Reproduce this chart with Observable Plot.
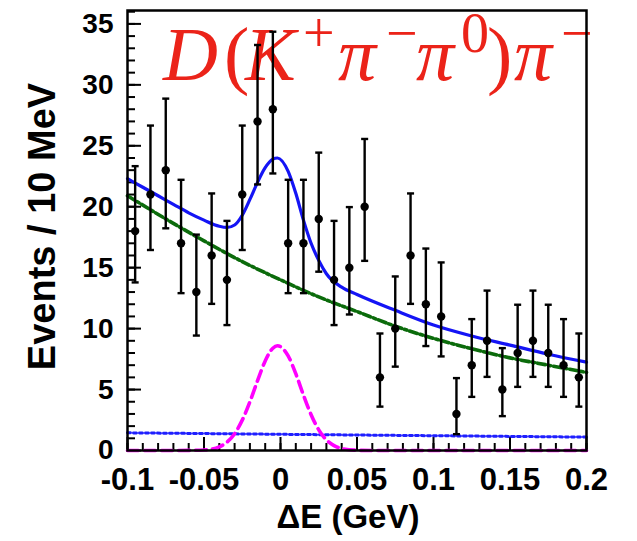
<!DOCTYPE html>
<html>
<head>
<meta charset="utf-8">
<script src="https://cdn.jsdelivr.net/npm/d3@7"></script>
<script src="https://cdn.jsdelivr.net/npm/@observablehq/plot@0.6"></script>
<style>
  html, body { margin: 0; padding: 0; background: white; }
</style>
</head>
<body>
<div id="chart"></div>
<script>
// ---- data ----
const binCenters = [-0.095,-0.085,-0.075,-0.065,-0.055,-0.045,-0.035,-0.025,-0.015,-0.005,
                    0.005,0.015,0.025,0.035,0.045,0.055,0.065,0.075,0.085,0.095,
                    0.105,0.115,0.125,0.135,0.145,0.155,0.165,0.175,0.185,0.195];
const counts = [18,21,23,17,13,16,14,21,27,28,17,17,19,14,15,20,6,10,16,12,11,3,7,9,5,8,9,8,7,6];
const errLow = [13.79,16.45,18.23,12.91,9.43,12.03,10.29,16.45,21.83,22.73,12.91,12.91,14.67,10.29,11.16,15.56,3.60,6.88,12.03,8.57,7.72,1.34,4.40,6.04,2.82,5.22,6.04,5.22,4.40,3.60];
const errHigh = [23.33,26.66,28.87,22.21,17.71,21.09,18.84,26.66,33.27,34.36,22.21,22.21,24.44,18.84,19.97,25.56,9.60,14.28,21.09,16.57,15.43,5.94,10.78,13.12,8.40,11.96,13.12,11.96,10.78,9.60];

const totalX = [-0.1,-0.09,-0.08,-0.07,-0.06,-0.05,-0.04,-0.035,-0.03,-0.025,-0.02,-0.015,-0.01,-0.005,-0.002,0.005,0.01,0.015,0.02,0.025,0.03,0.04,0.05,0.075,0.1,0.125,0.15,0.175,0.2];
const totalY = [22.3,21.6,20.9,20.2,19.5,18.9,18.4,18.3,18.5,19.3,20.6,22.0,23.2,23.9,24.0,22.9,21.1,18.9,17.0,15.6,14.5,13.4,12.8,11.5,10.3,9.4,8.65,7.9,7.25];

const bkgX = [-0.1,-0.075,-0.05,-0.025,0,0.025,0.05,0.075,0.1,0.125,0.15,0.175,0.2];
const bkgY = [20.9,19.0,17.2,15.5,14.0,12.6,11.4,10.2,9.2,8.35,7.6,7.0,6.4];

const sigX = [-0.1,-0.07,-0.06,-0.05,-0.04,-0.035,-0.03,-0.025,-0.02,-0.015,-0.01,-0.005,-0.002,0.005,0.01,0.015,0.02,0.025,0.03,0.035,0.04,0.05,0.06,0.07,0.2];
const sigY = [0,0,0.01,0.04,0.30,0.68,1.38,2.49,4.0,5.73,7.35,8.39,8.6,7.76,6.3,4.55,2.94,1.69,0.87,0.40,0.16,0.02,0,0,0];

const flatX = [-0.1,0.05,0.2];
const flatY = [1.45,1.27,1.1];

const xTicks = [-0.1,-0.05,0,0.05,0.1,0.15,0.2];
const xTickLabels = ["-0.1","-0.05","0","0.05","0.1","0.15","0.2"];
const yTicks = [0,5,10,15,20,25,30,35];
const xMinor = d3.range(-10, 21).map(i => i / 100);
const yMinor = d3.range(0, 37);

const yLabel = "Events / 10 MeV";
const xLabel = "\u0394E (GeV)";

// ---- tables ----
const points = binCenters.map((x, i) => ({x, y: counts[i], lo: errLow[i], hi: errHigh[i]}));
const total = totalX.map((x, i) => ({x, y: totalY[i]}));
const bkg = bkgX.map((x, i) => ({x, y: bkgY[i]}));
const sig = sigX.map((x, i) => ({x, y: sigY[i]}));
const flat = flatX.map((x, i) => ({x, y: flatY[i]}));

const capHalf = 0.0023;
const frameW = 637 - 127 - 51;
const frameH = 541 - 10 - 91;

const chart = Plot.plot({
  width: 637,
  height: 541,
  marginLeft: 127,
  marginRight: 51,
  marginTop: 10,
  marginBottom: 91,
  x: {domain: [-0.1, 0.2]},
  y: {domain: [0, 36.1]},
  style: {fontFamily: "'Liberation Sans', Arial, Helvetica, sans-serif", fontWeight: "bold", background: "white", color: "black"},
  marks: [
    // minor & major ticks (inward)
    Plot.tickX(xMinor, {x: d => d, insetTop: frameH - 7, stroke: "black", strokeWidth: 2}),
    Plot.tickX(xTicks, {x: d => d, insetTop: frameH - 13, stroke: "black", strokeWidth: 2}),
    Plot.tickY(yMinor, {y: d => d, insetRight: frameW - 8, stroke: "black", strokeWidth: 2}),
    Plot.tickY(yTicks, {y: d => d, insetRight: frameW - 14, stroke: "black", strokeWidth: 2}),
    // curves
    Plot.line(flat, {x: "x", y: "y", stroke: "#1f1fff", strokeWidth: 3, strokeDasharray: "3,3"}),
    Plot.line(sig, {x: "x", y: "y", stroke: "#ff00ff", strokeWidth: 3.6, strokeDasharray: "11,6", curve: "monotone-x"}),
    Plot.line(bkg, {x: "x", y: "y", stroke: "#0b6b0b", strokeWidth: 3.6, strokeDasharray: "8,3,2.5,3", curve: "monotone-x"}),
    Plot.line(total, {x: "x", y: "y", stroke: "#1414f5", strokeWidth: 3.2, curve: "monotone-x"}),
    // data points with Poisson error bars
    Plot.ruleX(points, {x: "x", y1: "lo", y2: "hi", stroke: "black", strokeWidth: 2.4}),
    Plot.link(points, {x1: d => d.x - capHalf, x2: d => d.x + capHalf, y1: "hi", y2: "hi", stroke: "black", strokeWidth: 2.4}),
    Plot.link(points, {x1: d => d.x - capHalf, x2: d => d.x + capHalf, y1: "lo", y2: "lo", stroke: "black", strokeWidth: 2.4}),
    Plot.dot(points, {x: "x", y: "y", r: 4.2, fill: "black", stroke: "none"}),
    // axes
    Plot.axisX(xTicks, {tickSize: 0, tickPadding: 17, tickFormat: d => xTickLabels[xTicks.indexOf(d)], fontSize: 31, fontWeight: "bold", label: null}),
    Plot.axisY(yTicks, {tickSize: 0, tickPadding: 14, fontSize: 28, fontWeight: "bold", label: null}),
    Plot.text([yLabel], {frameAnchor: "left", textAnchor: "middle", lineAnchor: "middle", dx: -85, dy: -4, rotate: -90, fontSize: 38, fontWeight: "bold", fill: "black"}),
    Plot.text([xLabel], {frameAnchor: "bottom", textAnchor: "middle", lineAnchor: "middle", dx: -9, dy: 67, fontSize: 33, fontWeight: "bold", fill: "black"}),
    Plot.frame({stroke: "black", strokeWidth: 2.5})
  ]
});

// Title (drawn beneath the marks)
const titlePieces = [
  {t: "D", x: 163, y: 80, size: 76, italic: true},
  {t: "(", x: 224, y: 80, size: 76, italic: false},
  {t: "K", x: 245, y: 80, size: 76, italic: true},
  {t: "+", x: 303, y: 52, size: 56, italic: false},
  {t: "\u03C0", x: 338, y: 80, size: 76, italic: true},
  {t: "\u2212", x: 386, y: 52, size: 56, italic: false},
  {t: "\u03C0", x: 416, y: 80, size: 76, italic: true},
  {t: "0", x: 461, y: 52, size: 56, italic: false},
  {t: ")", x: 487, y: 80, size: 76, italic: false},
  {t: "\u03C0", x: 514, y: 80, size: 76, italic: true},
  {t: "\u2212", x: 561, y: 52, size: 56, italic: false}
];
const title = d3.select(chart).insert("text", "g")
  .attr("font-family", "'Liberation Serif', 'Times New Roman', serif")
  .attr("font-weight", "normal")
  .attr("text-anchor", "start")
  .attr("fill", "rgb(235,35,25)");
titlePieces.forEach(p => {
  title.append("tspan")
    .attr("x", p.x).attr("y", p.y)
    .attr("font-size", p.size)
    .attr("font-style", p.italic ? "italic" : "normal")
    .attr("text-anchor", "start")
    .text(p.t);
});

document.getElementById("chart").appendChild(chart);
</script>
</body>
</html>
